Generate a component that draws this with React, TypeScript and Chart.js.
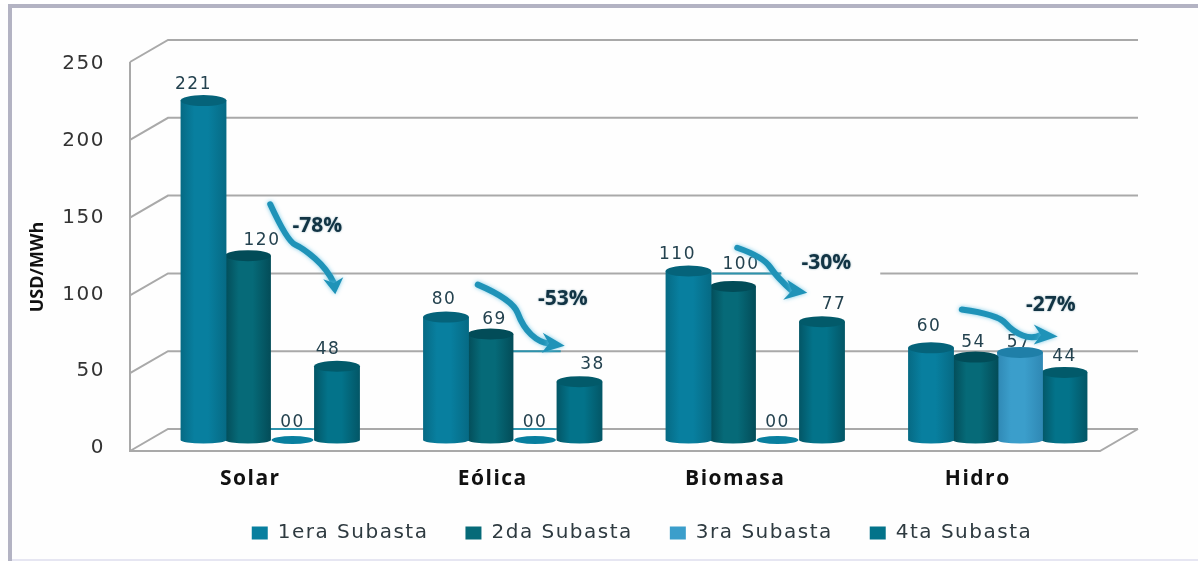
import React, { useEffect, useRef } from "react";
import { Chart, BarController, BarElement, CategoryScale, LinearScale, Legend, Tooltip } from "chart.js";

const categories = ["Solar", "Eólica", "Biomasa", "Hidro"];
const seriesNames = ["1era Subasta", "2da Subasta", "3ra Subasta", "4ta Subasta"];
const subasta1 = [221, 80, 110, 60];
const subasta2 = [120, 69, 100, 54];
const subasta3 = [0, 0, 0, 57];
const subasta4 = [48, 38, 77, 44];
const changes = ["-78%", "-53%", "-30%", "-27%"];
const yTicks = [0, 50, 100, 150, 200, 250];

const seriesColors = ["#087f9f", "#066a78", "#3b9ecb", "#03738a"];
const edgeColors = ["#066a84", "#034c58", "#2f88b4", "#035666"];
const capColors = ["#05637a", "#024c58", "#1f7fa8", "#025a6a"];

// label nudges, [dx, dy] from the top-centre of each bar, by series then category
const labelNudges = [
  [[-10, -16], [-2, -18], [-11, -16], [-2, -21]],
  [[14, -15], [4, -14], [8, -22], [-2, -14]],
  [[0, -17], [0, -17], [0, -17], [-1, -10]],
  [[-9, -17], [13, -17], [12, -17], [0, -16]],
];

// annotation curves, relative to [category centre, top of the 4th-series bar]
const arrowCurves = [
  { path: [[0, -162], [17, -125], [33, -118], [57, -97], [65, -72]], wings: [[53, -87], [73, -89]], text: [47, -140] },
  { path: [[-35, -97], [0, -82], [10, -55], [27, -39], [52, -36]], wings: [[30, -49], [29, -29]], text: [50, -83] },
  { path: [[-18, -74], [8, -65], [22, -44], [52, -29]], wings: [[32, -42], [28, -22]], text: [71, -59] },
  { path: [[-36, -63], [0, -58], [15, -41], [35, -33], [60, -36]], wings: [[36, -48], [36, -28]], text: [53, -67] },
];

const LETTER = "1.5px";
const SANS = '"DejaVu Sans", sans-serif';
const BOLD = '"Open Sans", sans-serif';

class CylinderElement extends BarElement {
  static id = "cylinderBar";
  draw(ctx: CanvasRenderingContext2D) {
    const { x, y, base, width } = (this as any).getProps(["x", "y", "base", "width"]);
    const idx = (this as any).$series as number;
    const w = width / 2;
    ctx.save();
    if (Math.abs(base - y) < 1) {
      ctx.fillStyle = seriesColors[idx === 2 ? 0 : idx];
      ctx.beginPath();
      ctx.ellipse(x, base, w - 2, 4, 0, 0, Math.PI * 2);
      ctx.fill();
      ctx.restore();
      return;
    }
    const g = ctx.createLinearGradient(x - w, 0, x + w, 0);
    g.addColorStop(0, edgeColors[idx]);
    g.addColorStop(0.3, seriesColors[idx]);
    g.addColorStop(0.6, seriesColors[idx]);
    g.addColorStop(1, edgeColors[idx]);
    ctx.fillStyle = g;
    ctx.beginPath();
    ctx.moveTo(x - w, y);
    ctx.lineTo(x - w, base);
    ctx.ellipse(x, base, w, 3.5, 0, Math.PI, 0, true);
    ctx.lineTo(x + w, y);
    ctx.closePath();
    ctx.fill();
    ctx.fillStyle = capColors[idx];
    ctx.beginPath();
    ctx.ellipse(x, y, w, 5.5, 0, 0, Math.PI * 2);
    ctx.fill();
    ctx.restore();
  }
}

class CylinderController extends BarController {
  static id = "cylinderBar";
  static defaults = { ...(BarController as any).defaults, dataElementType: "cylinderBar" };
  updateElements(bars: any[], start: number, count: number, mode: any) {
    super.updateElements(bars, start, count, mode);
    bars.forEach((b) => (b.$series = this.index));
  }
}

Chart.register(CylinderController as any, CylinderElement as any, CategoryScale, LinearScale, Legend, Tooltip);

const wallPlugin = {
  id: "wall",
  beforeUpdate(chart: any) {
    chart.ctx.letterSpacing = LETTER;
  },
  afterLayout(chart: any) {
    const l = chart.legend;
    l.left += 8;
    l.right += 8;
    l.top -= 8;
    l.bottom -= 8;
  },
  beforeDraw(chart: any) {
    const { ctx, width, height } = chart;
    ctx.letterSpacing = LETTER;
    ctx.save();
    ctx.fillStyle = "#fefefe";
    ctx.fillRect(0, 0, width, height);
    ctx.fillStyle = "#ffffff";
    ctx.fillRect(0, 0, width, 4);
    ctx.fillStyle = "#b3b3c3";
    ctx.fillRect(8, 4, width - 8, 4);
    ctx.fillRect(8, 4, 4, height - 4);
    ctx.fillStyle = "#e6e6f2";
    ctx.fillRect(12, height - 2, width - 12, 2);
    ctx.restore();
  },
  beforeDatasetsDraw(chart: any) {
    const { ctx, scales } = chart;
    const y = scales.y;
    const front = (v: number) => y.getPixelForValue(v) + 11 - (5 * v) / 250;
    const back = (v: number) => y.getPixelForValue(v) - 11 - (5 * v) / 250;
    const xL = 130;
    const xB = 168;
    const xR = 1138;
    ctx.save();
    ctx.strokeStyle = "#a9a9a9";
    ctx.lineWidth = 2;
    yTicks.forEach((v) => {
      ctx.beginPath();
      ctx.moveTo(xL, front(v));
      ctx.lineTo(xB, back(v));
      ctx.lineTo(xR, back(v));
      ctx.stroke();
    });
    ctx.beginPath();
    ctx.moveTo(xL, front(250));
    ctx.lineTo(xL, front(0));
    ctx.lineTo(1100, front(0));
    ctx.lineTo(xR, back(0));
    ctx.stroke();
    // white text box behind the -30% label interrupts the 100 line
    const cx = scales.x.getPixelForValue(2);
    ctx.fillStyle = "#fefefe";
    ctx.fillRect(cx + 26, back(100) - 6, 99, 12);
    // thin teal runs under the arrows
    ctx.strokeStyle = "#2d93ad";
    [[2, 100, -43, 26], [1, 50, 0, 48], [1, 0, 0, 44], [0, 0, 0, 45]].forEach(([c, v, a, b]) => {
      const px = scales.x.getPixelForValue(c);
      ctx.beginPath();
      ctx.moveTo(px + a, back(v));
      ctx.lineTo(px + b, back(v));
      ctx.stroke();
    });
    ctx.restore();
  },
  afterDatasetsDraw(chart: any) {
    const { ctx, scales } = chart;
    ctx.save();
    // value labels
    ctx.textAlign = "center";
    ctx.textBaseline = "middle";
    ctx.font = `17px ${SANS}`;
    ctx.letterSpacing = "1.5px";
    ctx.fillStyle = "#24424f";
    chart.data.datasets.forEach((ds: any, s: number) => {
      const meta = chart.getDatasetMeta(s);
      meta.data.forEach((bar: any, i: number) => {
        const v = ds.data[i];
        const [dx, dy] = labelNudges[s][i];
        ctx.fillText(v === 0 ? "00" : String(v), bar.x + dx, bar.y + dy);
      });
    });
    // arrows
    arrowCurves.forEach((a, i) => {
      const ox = scales.x.getPixelForValue(i);
      const oy = scales.y.getPixelForValue(subasta4[i]);
      const P = a.path.map(([dx, dy]) => [ox + dx, oy + dy]);
      const tip = P[P.length - 1];
      const W = a.wings.map(([dx, dy]) => [ox + dx, oy + dy]);
      const notch = [
        (W[0][0] + W[1][0]) / 2 * 0.7 + tip[0] * 0.3,
        (W[0][1] + W[1][1]) / 2 * 0.7 + tip[1] * 0.3,
      ];
      ctx.save();
      ctx.strokeStyle = "#1f93b8";
      ctx.fillStyle = "#1f93b8";
      ctx.shadowColor = "rgba(90,190,225,0.8)";
      ctx.shadowBlur = 4;
      ctx.lineCap = "round";
      ctx.lineJoin = "round";
      ctx.lineWidth = 6;
      ctx.beginPath();
      ctx.moveTo(P[0][0], P[0][1]);
      for (let k = 1; k < P.length - 2; k++) {
        const mx = (P[k][0] + P[k + 1][0]) / 2;
        const my = (P[k][1] + P[k + 1][1]) / 2;
        ctx.quadraticCurveTo(P[k][0], P[k][1], mx, my);
      }
      ctx.quadraticCurveTo(P[P.length - 2][0], P[P.length - 2][1], notch[0], notch[1]);
      ctx.stroke();
      ctx.beginPath();
      ctx.moveTo(tip[0], tip[1]);
      ctx.lineTo(W[0][0], W[0][1]);
      ctx.lineTo(notch[0], notch[1]);
      ctx.lineTo(W[1][0], W[1][1]);
      ctx.closePath();
      ctx.fill();
      ctx.restore();
      // percent text
      ctx.save();
      ctx.font = `bold 21px ${BOLD}`;
      ctx.letterSpacing = "0px";
      ctx.fillStyle = "#123444";
      ctx.shadowColor = "rgba(60,110,130,0.6)";
      ctx.shadowBlur = 2;
      ctx.textAlign = "center";
      ctx.textBaseline = "middle";
      ctx.fillText(changes[i], ox + a.text[0], oy + a.text[1]);
      ctx.restore();
    });
    // axis title, sits below the middle of the axis
    ctx.save();
    ctx.translate(38, 267);
    ctx.rotate(-Math.PI / 2);
    ctx.font = `bold 18px ${BOLD}`;
    ctx.letterSpacing = "0px";
    ctx.fillStyle = "#111";
    ctx.fillText("USD/MWh", 0, 0);
    ctx.restore();
    ctx.restore();
  },
};

export default function App() {
  const ref = useRef<HTMLCanvasElement>(null);
  useEffect(() => {
    document.body.style.margin = "0";
    const series = [subasta1, subasta2, subasta3, subasta4];
    const chart = new Chart(ref.current!, {
      type: "cylinderBar" as any,
      data: {
        labels: categories,
        datasets: series.map((data, i) => ({
          label: seriesNames[i],
          data,
          backgroundColor: seriesColors[i],
          borderWidth: 0,
          clip: false,
          categoryPercentage: 0.734,
          barPercentage: 1.03,
        })),
      },
      options: {
        responsive: false,
        animation: false,
        layout: { padding: { left: 20, right: 79, top: 53, bottom: 0 } },
        plugins: {
          tooltip: { enabled: false },
          legend: {
            position: "bottom",
            fullSize: false,
            labels: {
              boxWidth: 16,
              boxHeight: 13,
              padding: 37,
              color: "#2e3a40",
              font: { family: SANS, size: 20 },
            },
          },
        },
        scales: {
          x: {
            type: "category",
            offset: true,
            grid: { display: false },
            border: { display: false },
            afterFit: (s: any) => {
              s.height = 54;
            },
            ticks: {
              autoSkip: false,
              labelOffset: -20,
              padding: 18,
              maxRotation: 0,
              color: "#111111",
              font: { family: BOLD, size: 21, weight: "bold" },
            },
          },
          y: {
            type: "linear",
            min: 0,
            max: 250,
            grid: { display: false, drawTicks: false },
            border: { display: false },
            afterFit: (s: any) => {
              s.width = 129;
            },
            afterBuildTicks: (s: any) => {
              s.ticks = yTicks.map((value) => ({ value }));
            },
            ticks: {
              labelOffset: 8,
              padding: 44,
              color: "#333333",
              font: { family: SANS, size: 20 },
            },
          },
        },
      } as any,
      plugins: [wallPlugin as any],
    });
    return () => chart.destroy();
  }, []);
  return (
    <canvas
      ref={ref}
      width={1198}
      height={561}
      style={{ display: "block", width: 1198, height: 561, filter: "blur(0.5px)" }}
    />
  );
}
